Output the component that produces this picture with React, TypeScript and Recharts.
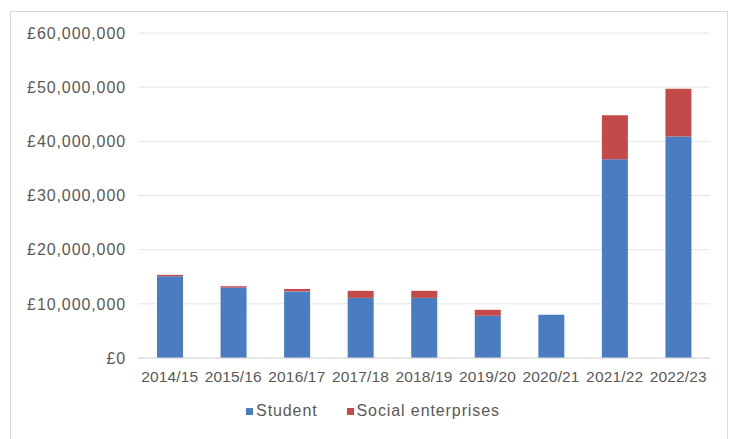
import React from 'react';
import { BarChart, Bar, XAxis, YAxis, CartesianGrid, Legend } from 'recharts';

// Funding by academic year, split into student and social enterprise awards (£)
const years = ['2014/15', '2015/16', '2016/17', '2017/18', '2018/19', '2019/20', '2020/21', '2021/22', '2022/23'];
const student = [15100000, 13000000, 12300000, 11100000, 11100000, 7800000, 8000000, 36700000, 40900000];
const socialEnterprises = [250000, 250000, 450000, 1300000, 1300000, 1100000, 0, 8100000, 8800000];
const yTicks = [0, 10000000, 20000000, 30000000, 40000000, 50000000, 60000000];

const data = years.map((year, i) => ({
  year,
  student: student[i],
  social: socialEnterprises[i],
}));

const BLUE = '#4a7cc2';
const RED = '#c44a4a';
const TEXT = '#595959';
const FONT = '"Liberation Sans", Arial, Helvetica, sans-serif';

const formatPounds = (v: number) => '£' + v.toLocaleString('en-GB');

const legendItems = [
  { label: 'Student', color: BLUE },
  { label: 'Social enterprises', color: RED },
];

const LegendContent = () => (
  <div
    style={{
      display: 'flex',
      justifyContent: 'center',
      alignItems: 'center',
      height: 20,
      fontFamily: FONT,
      fontSize: 16,
      letterSpacing: 0.9,
      color: TEXT,
    }}
  >
    {legendItems.map((item, i) => (
      <div key={item.label} style={{ display: 'flex', alignItems: 'center', marginLeft: i === 0 ? 0 : 29 }}>
        <span style={{ display: 'inline-block', width: 7, height: 7, background: item.color, marginRight: 3 }} />
        <span>{item.label}</span>
      </div>
    ))}
  </div>
);

export default function App() {
  return (
    <div
      style={{
        position: 'absolute',
        left: 0,
        top: 0,
        width: 730,
        height: 439,
        overflow: 'hidden',
        background: '#ffffff',
      }}
    >
      <div
        style={{
          position: 'absolute',
          left: 10,
          top: 11,
          width: 718,
          height: 440,
          border: '1px solid #d9d9d9',
          boxSizing: 'border-box',
        }}
      />
      <div style={{ position: 'absolute', left: 0, top: 0 }}>
        <BarChart
          width={730}
          height={439}
          data={data}
          margin={{ top: 33, right: 20, bottom: 31, left: 0 }}
          barSize={26}
        >
          <CartesianGrid vertical={false} stroke="#e6e6e6" />
          <XAxis
            dataKey="year"
            tickLine={false}
            axisLine={{ stroke: '#d9d9d9' }}
            tickSize={6}
            tickMargin={7}
            height={30}
            interval={0}
            tick={{ fill: TEXT, fontSize: 15.5, fontFamily: FONT, letterSpacing: 0.15 }}
          />
          <YAxis
            width={138}
            domain={[0, 60000000]}
            ticks={yTicks}
            tickFormatter={formatPounds}
            tickLine={false}
            axisLine={false}
            tickSize={6}
            tickMargin={6}
            tick={{ fill: TEXT, fontSize: 16, fontFamily: FONT, letterSpacing: 0.9 }}
          />
          <Legend
            verticalAlign="bottom"
            content={<LegendContent />}
            wrapperStyle={{ left: 16, width: 714, bottom: 18 }}
          />
          <Bar dataKey="student" name="Student" stackId="a" fill={BLUE} isAnimationActive={false} />
          <Bar dataKey="social" name="Social enterprises" stackId="a" fill={RED} isAnimationActive={false} />
        </BarChart>
      </div>
    </div>
  );
}
